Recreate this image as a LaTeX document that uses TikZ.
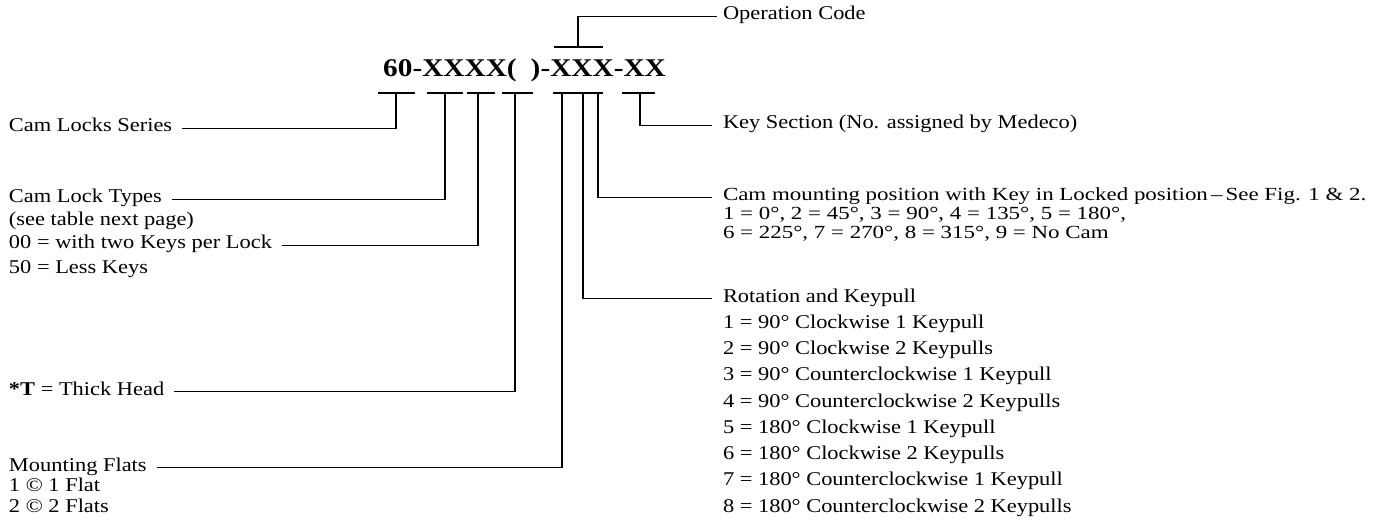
\documentclass[tikz,border=0pt]{standalone}
\usepackage{fontspec}
\setmainfont{Liberation Serif}
\newfontfamily\lf[FakeStretch=1.15]{Liberation Serif}
\newfontfamily\cf[FakeStretch=1.24]{Liberation Serif}
\begin{document}
\begin{tikzpicture}[x=1pt,y=-1pt,
  lt/.style={font=\lf\fontsize{19.5}{23}\selectfont, inner sep=0pt, outer xsep=10pt, text height=12pt, text depth=5pt, anchor=base west},
  rt/.style={lt, outer xsep=11pt},
  ct/.style={rt, font=\cf\fontsize{18.5}{20}\selectfont, text height=11pt, text depth=4pt},
  bar/.style={line width=2.2pt},
  conn/.style={line width=1.7pt}]
\useasboundingbox (0,0) rectangle (1375,521);

% code
\node[font=\lf\bfseries\fontsize{25.5}{28}\selectfont, inner sep=0pt, anchor=base west] (code) at (383,77) {60-XXXX(\hspace{14pt})-XXX-XX};

% left texts
\node[lt] (cls) at (-1,132) {Cam Locks Series};
\node[lt] (clt) at (-1,203) {Cam Lock Types};
\node[lt] (st) at (-1,226) {(see table next page)};
\node[lt] (k00) at (-1,249) {00 = with two Keys per Lock};
\node[lt] (k50) at (-1,273) {50 = Less Keys};
\node[lt] (th) at (-1,395) {{\bfseries *T} = Thick Head};
\node[lt] (mf) at (-1,471) {Mounting Flats};
\node[lt] (f1) at (-1,491) {1 © 1 Flat};
\node[lt] (f2) at (-1,512) {2 © 2 Flats};

% right texts
\node[rt, outer xsep=6pt] (op) at (717,20) {Operation Code};
\node[rt] (ks) at (712,129) {Key Section (No. assigned by Medeco)};
\node[ct] (cm1) at (712,201) {Cam mounting position with Key in Locked position\,–\,See Fig. 1 \& 2.};
\node[ct] (cm2) at (712,220) {1 = 0°, 2 = 45°, 3 = 90°, 4 = 135°, 5 = 180°,};
\node[ct] (cm3) at (712,239) {6 = 225°, 7 = 270°, 8 = 315°, 9 = No Cam};
\node[rt] (rk) at (712,302) {Rotation and Keypull};
\node[rt] (r1) at (712,328.25) {1 = 90° Clockwise 1 Keypull};
\node[rt] (r2) at (712,354.5) {2 = 90° Clockwise 2 Keypulls};
\node[rt] (r3) at (712,380.75) {3 = 90° Counterclockwise 1 Keypull};
\node[rt] (r4) at (712,407) {4 = 90° Counterclockwise 2 Keypulls};
\node[rt] (r5) at (712,433.25) {5 = 180° Clockwise 1 Keypull};
\node[rt] (r6) at (712,459.5) {6 = 180° Clockwise 2 Keypulls};
\node[rt] (r7) at (712,485.75) {7 = 180° Counterclockwise 1 Keypull};
\node[rt] (r8) at (712,512) {8 = 180° Counterclockwise 2 Keypulls};

% bars
\coordinate (ol) at (554,47); \coordinate (or) at (603,47); \coordinate (os) at (578,47);
\coordinate (b1l) at (378,93); \coordinate (b1r) at (415,93); \coordinate (s1) at (396,93);
\coordinate (b2l) at (427,93); \coordinate (b2r) at (463,93); \coordinate (s2) at (445,93);
\coordinate (b3l) at (467,93); \coordinate (b3r) at (495,93); \coordinate (s3) at (478,93);
\coordinate (b4l) at (502,93); \coordinate (b4r) at (533,93); \coordinate (s4) at (515,93);
\coordinate (b5l) at (553,93); \coordinate (b5r) at (603,93);
\coordinate (s5a) at (562,93); \coordinate (s5b) at (583,93); \coordinate (s5c) at (598,93);
\coordinate (b6l) at (622,93); \coordinate (b6r) at (655,93); \coordinate (s6) at (640,93);

\foreach \a/\b in {ol/or,b1l/b1r,b2l/b2r,b3l/b3r,b4l/b4r,b5l/b5r,b6l/b6r}
  \draw[bar] (\a) -- (\b);

% connectors
\draw[conn] (os) |- (op.west);
\draw[conn] (s1) |- (cls.east);
\draw[conn] (s2) |- (clt.east);
\draw[conn] (s3) |- (k00.east);
\draw[conn] (s4) |- (th.east);
\draw[conn] (s5a) |- (mf.east);
\draw[conn] (s5b) |- (rk.west);
\draw[conn] (s5c) |- (cm1.west);
\draw[conn] (s6) |- (ks.west);
\end{tikzpicture}
\end{document}
